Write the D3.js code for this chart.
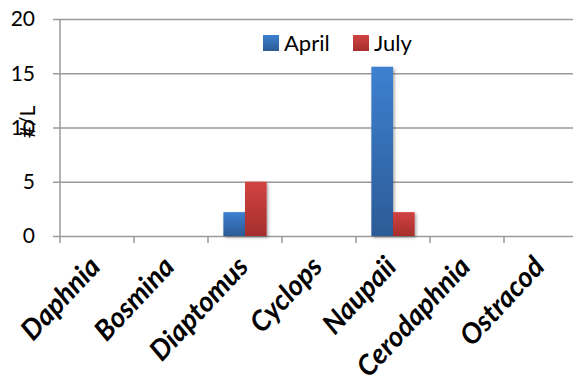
<!DOCTYPE html>
<html>
<head>
<meta charset="utf-8">
<script src="https://cdn.jsdelivr.net/npm/d3@7"></script>
<style>
  html, body { margin: 0; padding: 0; background: #fff; }
  svg { display: block; }
</style>
</head>
<body>
<svg id="chart" width="573" height="381"></svg>
<script>
// Zooplankton counts per litre, by taxon and month
const categories = ["Daphnia", "Bosmina", "Diaptomus", "Cyclops", "Naupaii", "Cerodaphnia", "Ostracod"];
const seriesNames = ["April", "July"];
const aprilValues = [0, 0, 2.2, 0, 15.6, 0, 0];
const julyValues  = [0, 0, 5.0, 0, 2.2, 0, 0];
const yTicks = [0, 5, 10, 15, 20];

const svg = d3.select("#chart");
const font = "Lato, 'Open Sans', 'Liberation Sans', sans-serif";

const x0 = 60, yTop = 19, yBottom = 236;
const bandW = 74;

const x = d3.scaleBand().domain(categories).range([x0, x0 + bandW * categories.length]).paddingInner(0).paddingOuter(0);
const xs = d3.scaleBand().domain(seriesNames).range([0, x.bandwidth()]).paddingInner(0).paddingOuter(0.71);
const y = d3.scaleLinear().domain([0, 20]).range([yBottom, yTop]);

// Gradients for bar fills
const defs = svg.append("defs");
const grads = [
  { id: "gApril", top: "#3d80d0", bottom: "#2c5b96" },
  { id: "gJuly", top: "#d24342", bottom: "#a52e2c" }
];
grads.forEach(g => {
  const lg = defs.append("linearGradient").attr("id", g.id).attr("x1", 0).attr("y1", 0).attr("x2", 0).attr("y2", 1);
  lg.append("stop").attr("offset", "0%").attr("stop-color", g.top);
  lg.append("stop").attr("offset", "100%").attr("stop-color", g.bottom);
});
const shadow = defs.append("filter").attr("id", "shadow").attr("x", "-30%").attr("y", "-10%").attr("width", "160%").attr("height", "130%");
shadow.append("feDropShadow").attr("dx", 1.5).attr("dy", 1.5).attr("stdDeviation", 1.8).attr("flood-color", "#000").attr("flood-opacity", 0.35);

// Horizontal gridlines and y tick marks
const yAxis = d3.axisLeft(y).tickValues(yTicks).tickSize(-(573 - x0 + 20)).tickSizeOuter(0).tickPadding(0).tickFormat(() => "");
const gy = svg.append("g").attr("transform", `translate(${x0},0)`).call(yAxis);
gy.select(".domain").remove();
gy.selectAll(".tick line").attr("x1", -7).attr("stroke", "#9a9a9a").attr("stroke-width", 1.5);

// Y tick labels
svg.append("g").selectAll("text").data(yTicks).join("text")
  .attr("x", 35).attr("y", d => y(d)).attr("dy", "0.35em")
  .attr("text-anchor", "end")
  .attr("font-family", font).attr("font-size", 21).attr("fill", "#000")
  .text(d => d);

// Y axis line
svg.append("line").attr("x1", x0).attr("x2", x0).attr("y1", yTop).attr("y2", yBottom)
  .attr("stroke", "#9a9a9a").attr("stroke-width", 1.5);

// X axis ticks at category boundaries
const boundaries = d3.range(categories.length + 1).map(i => x0 + i * bandW);
svg.append("g").selectAll("line").data(boundaries).join("line")
  .attr("x1", d => d).attr("x2", d => d).attr("y1", yBottom).attr("y2", yBottom + 7)
  .attr("stroke", "#9a9a9a").attr("stroke-width", 1.5);

// Bars
const rows = categories.map((c, i) => ({ cat: c, vals: [
  { s: "April", v: aprilValues[i] }, { s: "July", v: julyValues[i] }
]}));
const barG = svg.append("g");
rows.forEach(r => {
  r.vals.filter(d => d.v > 0).forEach(d => {
    barG.append("rect")
      .attr("x", x(r.cat) + xs(d.s))
      .attr("y", y(d.v))
      .attr("width", xs.bandwidth())
      .attr("height", y(0) - y(d.v))
      .attr("fill", d.s === "April" ? "url(#gApril)" : "url(#gJuly)")
      .attr("filter", "url(#shadow)");
  });
});

// Category labels, rotated
svg.append("g").selectAll("text").data(categories).join("text")
  .attr("transform", d => `translate(${x(d) + bandW / 2 + 5},${yBottom + 32}) rotate(-47)`)
  .attr("text-anchor", "end")
  .attr("font-family", font).attr("font-size", 28).attr("font-weight", "bold").attr("font-style", "italic")
  .attr("fill", "#000")
  .text(d => d);

// Y axis title
svg.append("text")
  .attr("transform", `translate(35,122) rotate(-90)`)
  .attr("text-anchor", "middle")
  .attr("font-family", font).attr("font-size", 21).attr("fill", "#000")
  .text("#/L");

// Legend
const legend = svg.append("g");
const legendItems = [
  { name: "April", fill: "url(#gApril)", x: 263 },
  { name: "July", fill: "url(#gJuly)", x: 353 }
];
legendItems.forEach(it => {
  legend.append("rect").attr("x", it.x).attr("y", 35).attr("width", 16).attr("height", 16).attr("fill", it.fill);
  legend.append("text").attr("x", it.x + 21).attr("y", 43).attr("dy", "0.35em")
    .attr("font-family", font).attr("font-size", 22).attr("fill", "#000").text(it.name);
});
</script>
</body>
</html>
